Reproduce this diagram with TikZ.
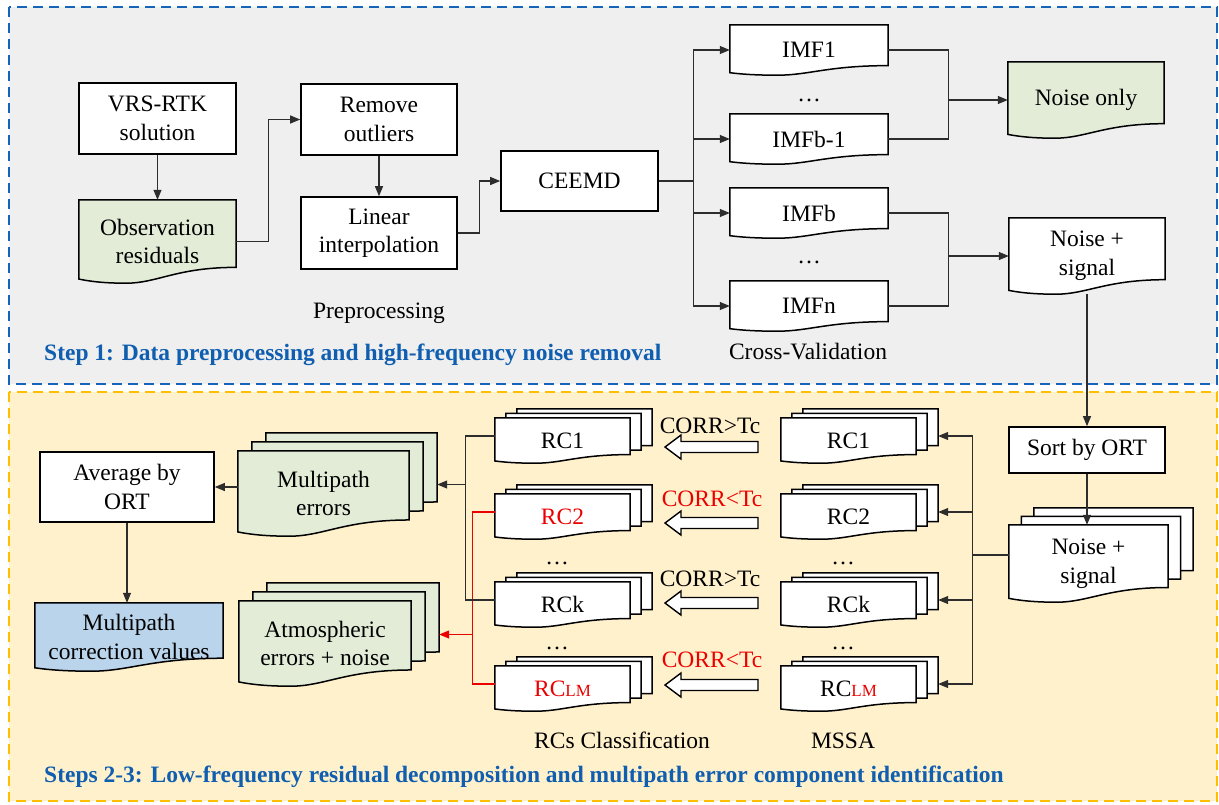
\documentclass[tikz,border=0pt]{standalone}
\usepackage{fontspec}
\setmainfont{Liberation Serif}
\usetikzlibrary{arrows.meta,calc}
\pgfdeclarelayer{panel}
\pgfdeclarelayer{sheets}
\pgfsetlayers{panel,sheets,main}

\definecolor{panelgray}{RGB}{239,239,239}
\definecolor{panelyellow}{RGB}{255,241,204}
\definecolor{frameblue}{RGB}{22,100,185}
\definecolor{frameorange}{RGB}{255,190,0}
\definecolor{stepblue}{RGB}{16,94,176}
\definecolor{sheetgreen}{RGB}{226,236,215}
\definecolor{sheetblue}{RGB}{186,212,236}
\definecolor{linkgray}{RGB}{45,45,45}
\definecolor{alertred}{RGB}{235,0,0}

\tikzset{
  base/.style={font=\fontsize{23.5}{28.5}\selectfont, align=center, inner sep=0pt},
  sz/.style 2 args={minimum width=#1pt, minimum height=#2pt},
  procbox/.style={base, draw=black, line width=1.6pt, fill=white},
  sheetnode/.style={base, draw=none},
  docline/.style={draw=black, line width=1.5pt, line join=miter},
  link/.style={draw=linkgray, line width=1.1pt},
  arr/.style={link, -{Triangle[length=10pt,width=8pt]}},
  redlink/.style={draw=alertred, line width=1.1pt},
  redarr/.style={redlink, -{Triangle[length=10pt,width=8pt]}},
  caption/.style={base},
  steptitle/.style={font=\fontsize{23.5}{28.5}\selectfont\bfseries, text=stepblue, anchor=west, inner sep=0pt},
  frame/.style={line width=2.5pt, dash pattern=on 10pt off 6pt},
  hollowarr/.style={draw=black, fill=white, line width=1.4pt, line join=miter},
}

% outline of a document sheet (wavy lower edge) around a node
\newcommand\sheet[2][white]{%
  \begin{pgfonlayer}{sheets}
  \filldraw[docline,fill=#1] let \p1=(#2.north west), \p2=(#2.south east),
      \n1={\x2-\x1}, \n2={\y1-\y2} in
    (\x1,\y1) -- (\x2,\y1) -- (\x2,{\y2+0.19*\n2})
    .. controls ({\x1+0.62*\n1},{\y2+0.19*\n2}) and ({\x1+0.5*\n1},\y2) .. ({\x1+0.3*\n1},\y2)
    .. controls ({\x1+0.14*\n1},\y2) and ({\x1+0.05*\n1},{\y2+0.03*\n2}) .. (\x1,{\y2+0.05*\n2}) -- cycle;
  \end{pgfonlayer}}

% a pile of three sheets: name, x, y, width, height, fill, dx, dy, text
\newcommand\stack[9]{%
  \node[sheetnode, sz={#4}{#5}] (#1-c) at ({#2+2*#7},{#3+2*#8}) {};
  \node[sheetnode, sz={#4}{#5}] (#1-b) at ({#2+#7},{#3+#8}) {};
  \node[sheetnode, sz={#4}{#5}] (#1-a) at (#2,#3) {#9};
  \sheet[#6]{#1-c}\sheet[#6]{#1-b}\sheet[#6]{#1-a}}

% wide hollow arrow pointing left
\newcommand\hollow[1]{%
  \draw[hollowarr] (758,{#1-5.5}) -- (681,{#1-5.5}) -- (681,{#1-12}) -- (665,#1)
    -- (681,{#1+12}) -- (681,{#1+5.5}) -- (758,{#1+5.5}) -- cycle;}

\newcommand\lmsub{{\fontsize{17}{17}\selectfont LM}}

\begin{document}
\begin{tikzpicture}[x=1pt,y=-1pt]
\useasboundingbox (0,0) rectangle (1219,804);

% panels
\begin{pgfonlayer}{panel}
  \filldraw[frame, fill=panelgray, draw=frameblue] (9,7) rectangle (1217,384);
  \filldraw[frame, fill=panelyellow, draw=frameorange] (9,392) rectangle (1217,801);
\end{pgfonlayer}

% ---------- Step 1 ----------
\node[procbox, sz={157}{71}] (vrs) at (157.5,118.5) {VRS-RTK\\solution};
\node[sheetnode, sz={157}{83}] (obs) at (157.5,241.5) {Observation\\residuals};
\sheet[sheetgreen]{obs}
\node[procbox, sz={156}{71}] (rem) at (379,119.5) {Remove\\outliers};
\node[procbox, sz={156}{72}] (lin) at (379,233) {Linear\\interpolation};
\node[procbox, sz={157}{60}] (ceemd) at (579.5,181) {CEEMD};

\node[sheetnode, sz={158}{50}] (imf1) at (809,50) {IMF1};
\node[sheetnode, sz={158}{50}] (imfb1) at (809,139) {IMFb-1};
\node[sheetnode, sz={158}{50}] (imfb) at (809,213) {IMFb};
\node[sheetnode, sz={158}{50}] (imfn) at (809,306) {IMFn};
\sheet{imf1}\sheet{imfb1}\sheet{imfb}\sheet{imfn}
\node[base, anchor=base] (dotsa) at (809,101) {\dots};
\node[base, anchor=base] (dotsb) at (809,263) {\dots};

\node[sheetnode, sz={156}{76}] (noise) at (1086,100) {Noise only};
\sheet[sheetgreen]{noise}
\node[sheetnode, sz={156}{76}] (sig) at (1087,256) {Noise +\\signal};
\sheet{sig}

\node[caption] (prep) at (379,313) {Preprocessing};
\node[caption] (cv) at (808,352) {Cross-Validation};
\node[steptitle] (step1) at (44,355) {Step 1: Data preprocessing and high-frequency noise removal};

\draw[arr] (vrs) -- (obs);
\draw[arr] (obs.east) -- ++(32,0) |- (rem.west);
\draw[arr] (rem) -- (lin);
\draw[arr] (lin.east) -- ++(22,0) |- (ceemd.west);
\draw[link] (ceemd.east) -- ++(35,0) coordinate (split);
\draw[arr] (split) |- (imf1.west);
\draw[arr] (split) |- (imfb1.west);
\draw[arr] (split) |- (imfb.west);
\draw[arr] (split) |- (imfn.west);
\draw[link] (imf1.east) -- ++(60,0) coordinate (mergea) |- (imfb1.east);
\draw[arr] (mergea |- noise.west) -- (noise.west);
\draw[link] (imfb.east) -- ++(60,0) coordinate (mergeb) |- (imfn.east);
\draw[arr] (mergeb |- sig.west) -- (sig.west);

% ---------- Steps 2-3 ----------
\node[procbox, sz={156}{46}] (sort) at (1087,450) {Sort by ORT};
\stack{nsb}{1088.5}{563.5}{159}{77}{white}{12.5}{-8.5}{Noise +\\signal}

\stack{m1}{848.5}{440.5}{135}{45}{white}{11}{-4.5}{RC1}
\stack{m2}{848.5}{516.5}{135}{45}{white}{11}{-4.5}{RC2}
\stack{m3}{848.5}{604.5}{135}{45}{white}{11}{-4.5}{RCk}
\stack{m4}{848.5}{688.5}{135}{45}{white}{11}{-4.5}{RC\textcolor{alertred}{\lmsub}}
\node[base, anchor=base] (mdotsa) at (843,564) {\dots};
\node[base, anchor=base] (mdotsb) at (843,649) {\dots};

\stack{c1}{562.5}{440.5}{135}{45}{white}{11}{-4.5}{RC1}
\stack{c2}{562.5}{516.5}{135}{45}{white}{11}{-4.5}{\textcolor{alertred}{RC2}}
\stack{c3}{562.5}{604.5}{135}{45}{white}{11}{-4.5}{RCk}
\stack{c4}{562.5}{688.5}{135}{45}{white}{11}{-4.5}{\textcolor{alertred}{RC\lmsub}}
\node[base, anchor=base] (cdotsa) at (557,564) {\dots};
\node[base, anchor=base] (cdotsb) at (557,649) {\dots};

\hollow{447}\hollow{523}\hollow{603}\hollow{685}
\node[base] (t1) at (710,426) {CORR>Tc};
\node[base, text=alertred] (t2) at (712,499) {CORR<Tc};
\node[base] (t3) at (710,579) {CORR>Tc};
\node[base, text=alertred] (t4) at (712,660) {CORR<Tc};

\stack{me}{323.5}{493.5}{171}{85}{sheetgreen}{14}{-9}{Multipath\\errors}
\stack{at}{325}{643.5}{172}{85}{sheetgreen}{14}{-9}{Atmospheric\\errors + noise}

\node[procbox, sz={174}{70}] (avg) at (127,487) {Average by\\ORT};
\node[sheetnode, sz={188}{68}] (mcv) at (129,637) {Multipath\\correction values};
\sheet[sheetblue]{mcv}

\node[caption] (rcs) at (622,740) {RCs Classification};
\node[caption] (mssa) at (843,741) {MSSA};
\node[steptitle] (step2) at (44,777) {Steps 2-3: Low-frequency residual decomposition and multipath error component identification};

\draw[arr] (sig.south) -- (sort.north);
\draw[arr] (sort.south) -- (sort.south |- nsb-a.north);
\draw[link] (nsb-a.west |- nsb-b.west) -- ++(-36,0) coordinate (mbus);
\draw[link] (mbus |- m1-b.east) -- (mbus |- m4-b.east);
\foreach \i in {1,2,3,4}
  \draw[arr] (mbus |- m\i-b.east) -- (m\i-c.east |- m\i-b.east);

\draw[redlink] (c2-a.west |- c2-b.west) -- ++(-22,0) coordinate (rbus) |- (c4-a.west |- c4-b.west);
\draw[redarr] (rbus |- at-b.east) -- (at-c.east |- at-b.east);
\draw[link] (c1-a.west |- c1-b.west) -- ++(-29,0) coordinate (kbus) |- (c3-a.west |- c3-b.west);
\draw[arr] (kbus |- me-b.east) -- (me-c.east |- me-b.east);
\draw[arr] (me-a.west |- avg.east) -- (avg.east);
\draw[arr] (avg.south) -- (avg.south |- mcv.north);
\end{tikzpicture}
\end{document}
